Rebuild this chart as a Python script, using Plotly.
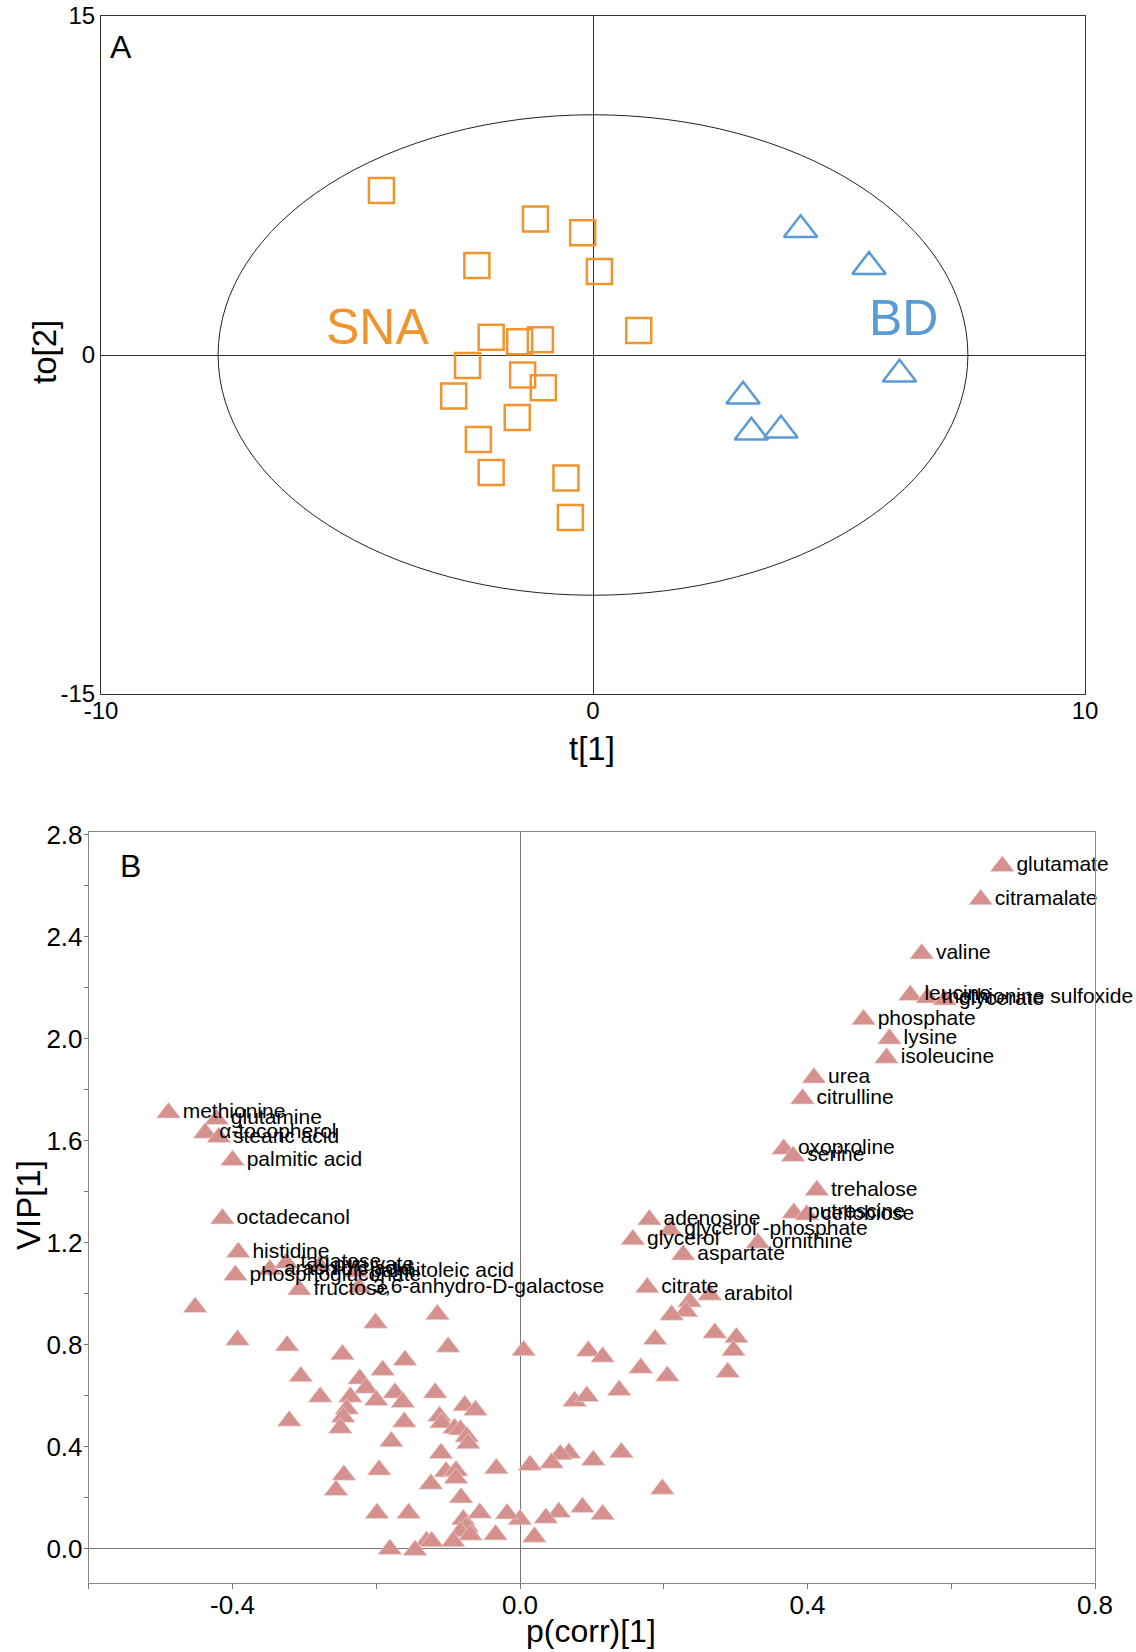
import plotly.graph_objects as go

W, H = 1136, 1652
FONT = "Liberation Sans, Arial, sans-serif"

# ---------------- Panel A data (scores) ----------------
sna_t1 = [-4.30, -1.17, -0.21, -2.36, 0.13, 0.93, -2.07, -1.49, -1.07, -2.55,
          -1.43, -1.01, -2.83, -1.54, -2.33, -2.07, -0.55, -0.46]
sna_to2 = [7.28, 6.02, 5.41, 3.96, 3.70, 1.08, 0.78, 0.59, 0.68, -0.46,
           -0.89, -1.45, -1.81, -2.76, -3.74, -5.20, -5.44, -7.19]
bd_t1 = [4.22, 5.61, 6.23, 3.05, 3.22, 3.82]
bd_to2 = [5.54, 3.91, -0.85, -1.83, -3.42, -3.33]
ellipse_a, ellipse_b = 7.62, 10.63
a_xticks = [-10, 0, 10]
a_xtext = ["-10", "0", "10"]
a_yticks = [-15, 0, 15]
a_ytext = ["-15", "0", "15"]

# ---------------- Panel B data (S-plot) ----------------
lab_names = ["glutamate", "citramalate", "valine", "leucine", "methionine sulfoxide",
             "glycerate", "phosphate", "lysine", "isoleucine", "urea", "citrulline",
             "oxoproline", "serine", "trehalose", "putrescine", "cellobiose",
             "adenosine", "glycerol -phosphate", "glycerol", "ornithine", "aspartate",
             "citrate", "arabitol",
             "methionine", "glutamine", "α-tocopherol", "stearic acid", "palmitic acid",
             "octadecanol", "histidine", "phosphogluconate", "arachidic acid",
             "tagatose", "pyruvate", "palmitoleic acid", "fructose",
             "3,6-anhydro-D-galactose"]
lab_pcorr = [0.671, 0.641, 0.559, 0.543, 0.567, 0.591, 0.478, 0.514, 0.510, 0.409, 0.393,
             0.367, 0.380, 0.413, 0.381, 0.399, 0.180, 0.209, 0.157, 0.331, 0.227,
             0.177, 0.264,
             -0.489, -0.422, -0.438, -0.419, -0.400, -0.414, -0.392, -0.396, -0.348,
             -0.325, -0.279, -0.228, -0.307, -0.224]
lab_vip = [2.676, 2.545, 2.333, 2.170, 2.160, 2.152, 2.075, 1.999, 1.924, 1.846, 1.764,
           1.567, 1.539, 1.405, 1.316, 1.309, 1.290, 1.250, 1.212, 1.199, 1.152,
           1.024, 0.995,
           1.709, 1.684, 1.630, 1.613, 1.523, 1.294, 1.162, 1.072, 1.094,
           1.120, 1.109, 1.086, 1.015, 1.024]

other_pcorr = [0.236, 0.231, 0.211, 0.271, 0.301, 0.297, 0.289, 0.188, 0.168, 0.205,
               0.138, 0.095, 0.115, 0.076, 0.093, 0.005, 0.198, 0.141, 0.102, 0.068,
               0.056, 0.044, 0.014, -0.033, 0.087, 0.115, 0.054, 0.036, 0.000, -0.018,
               0.020, -0.034,
               -0.452, -0.393, -0.324, -0.247, -0.201, -0.115, -0.100, -0.305, -0.160,
               -0.191, -0.223, -0.214, -0.278, -0.236, -0.200, -0.174, -0.163, -0.118,
               -0.077, -0.062, -0.241, -0.246, -0.321, -0.250, -0.161, -0.112, -0.109,
               -0.091, -0.083, -0.074, -0.072, -0.179, -0.110, -0.103, -0.089, -0.089,
               -0.124, -0.082, -0.196, -0.245, -0.256, -0.199, -0.155, -0.079, -0.074,
               -0.083, -0.069, -0.093, -0.056, -0.130, -0.123, -0.146, -0.181]
other_vip = [0.968, 0.930, 0.916, 0.846, 0.828, 0.777, 0.692, 0.821, 0.708, 0.677,
             0.621, 0.775, 0.752, 0.578, 0.598, 0.777, 0.234, 0.377, 0.347, 0.375,
             0.369, 0.336, 0.327, 0.314, 0.162, 0.134, 0.143, 0.120, 0.114, 0.137,
             0.046, 0.055,
             0.947, 0.818, 0.796, 0.761, 0.885, 0.918, 0.791, 0.675, 0.739,
             0.700, 0.666, 0.630, 0.595, 0.595, 0.582, 0.611, 0.574, 0.611,
             0.561, 0.543, 0.548, 0.516, 0.501, 0.473, 0.497, 0.519, 0.494,
             0.472, 0.466, 0.439, 0.412, 0.420, 0.374, 0.302, 0.306, 0.276,
             0.254, 0.200, 0.309, 0.289, 0.229, 0.139, 0.139, 0.114, 0.086,
             0.067, 0.054, 0.028, 0.140, 0.029, 0.028, -0.006, -0.002]
b_xticks = [-0.4, 0.0, 0.4, 0.8]
b_xtext = ["-0.4", "0.0", "0.4", "0.8"]
b_yticks = [0.0, 0.4, 0.8, 1.2, 1.6, 2.0, 2.4, 2.8]
b_ytext = ["0.0", "0.4", "0.8", "1.2", "1.6", "2.0", "2.4", "2.8"]

ORANGE = "#F0952E"
BLUE = "#5B9BD5"
PINK = "#D4918E"

fig = go.Figure()

# Panel A
fig.add_trace(go.Scatter(x=sna_t1, y=sna_to2, mode="markers", xaxis="x", yaxis="y",
                         marker=dict(symbol="square-open", size=25, color=ORANGE,
                                     line=dict(width=2.5, color=ORANGE)),
                         showlegend=False, hoverinfo="skip"))
fig.add_trace(go.Scatter(x=bd_t1, y=bd_to2, mode="markers", xaxis="x", yaxis="y",
                         marker=dict(symbol="triangle-up-open", size=29, color=BLUE,
                                     line=dict(width=2.5, color=BLUE)),
                         showlegend=False, hoverinfo="skip"))

# Panel B
MSIZE = 21
fig.add_trace(go.Scatter(x=other_pcorr, y=other_vip, mode="markers", xaxis="x2", yaxis="y2",
                         marker=dict(symbol="triangle-up", size=MSIZE, color=PINK,
                                     line=dict(width=0.6, color="#F3DCDB")),
                         showlegend=False, hoverinfo="skip"))
fig.add_trace(go.Scatter(x=lab_pcorr, y=lab_vip, mode="markers+text", xaxis="x2", yaxis="y2",
                         text=lab_names, textposition="middle right", cliponaxis=False,
                         textfont=dict(family=FONT, size=21, color="black"),
                         marker=dict(symbol="triangle-up", size=MSIZE, color=PINK,
                                     line=dict(width=0.6, color="#F3DCDB")),
                         showlegend=False, hoverinfo="skip"))

# pixel geometry -> domains
axA = dict(l=101, r=1085, t=16, b=694)
axB = dict(l=88.75, r=1095, t=831.5, b=1582.6)

def xd(a):
    return [a["l"] / W, a["r"] / W]

def yd(a):
    return [1 - a["b"] / H, 1 - a["t"] / H]

tickfont = dict(family=FONT, size=24, color="black")
tickfontB = dict(family=FONT, size=26, color="black")

fig.update_layout(
    width=W, height=H, margin=dict(l=0, r=0, t=0, b=0),
    paper_bgcolor="white", plot_bgcolor="white",
    font=dict(family=FONT, color="black"),
    xaxis=dict(domain=xd(axA), range=[-10, 10], tickvals=a_xticks, ticktext=a_xtext,
               ticks="", showgrid=False, zeroline=True, zerolinecolor="#333",
               zerolinewidth=1, showline=True, linecolor="#333", linewidth=1,
               mirror=True, tickfont=tickfont, automargin=False, anchor="y",
               ticklabelstandoff=-5),
    yaxis=dict(domain=yd(axA), range=[-15, 15], tickvals=a_yticks, ticktext=a_ytext,
               ticks="", showgrid=False, zeroline=True, zerolinecolor="#333",
               zerolinewidth=1, showline=True, linecolor="#333", linewidth=1,
               mirror=True, tickfont=tickfont, automargin=False, anchor="x"),
    xaxis2=dict(domain=xd(axB), range=[-0.6, 0.8], tickvals=b_xticks, ticktext=b_xtext,
                ticks="outside", ticklen=5, tickcolor="#777",
                minor=dict(dtick=0.2, tick0=0, ticks="outside", ticklen=5, tickcolor="#777"),
                showgrid=False, zeroline=True, zerolinecolor="#777", zerolinewidth=1,
                showline=True, linecolor="#888", linewidth=1, mirror=True,
                tickfont=tickfontB, automargin=False, anchor="y2",
                ticklabelstandoff=-6),
    yaxis2=dict(domain=yd(axB), range=[-0.133, 2.812], tickvals=b_yticks, ticktext=b_ytext,
                ticks="outside", ticklen=4, tickcolor="#777",
                minor=dict(dtick=0.2, tick0=0, ticks="outside", ticklen=4, tickcolor="#777"),
                showgrid=False, zeroline=True, zerolinecolor="#777", zerolinewidth=1,
                showline=True, linecolor="#888", linewidth=1, mirror=True,
                tickfont=tickfontB, automargin=False, anchor="x2",
                ticklabelstandoff=-4),
)

# Hotelling ellipse (drawn in data coordinates)
fig.add_shape(type="circle", xref="x", yref="y",
              x0=-ellipse_a, x1=ellipse_a, y0=-ellipse_b, y1=ellipse_b,
              line=dict(color="#222", width=1))

def ann(x, y, text, size, color="black", angle=0, xref="paper", yref="paper"):
    fig.add_annotation(x=x, y=y, xref=xref, yref=yref, text=text, showarrow=False,
                       textangle=angle, font=dict(family=FONT, size=size, color=color),
                       xanchor="center", yanchor="middle")

# group labels
ann(-4.38, 1.23, "SNA", 50, ORANGE, xref="x", yref="y")
ann(6.32, 1.62, "BD", 50, BLUE, xref="x", yref="y")

# panel letters
ann(121 / W, 1 - 47 / H, "A", 32)
ann(130 / W, 1 - 866 / H, "B", 32)

# axis titles
ann(592 / W, 1 - 748 / H, "t[1]", 33)
ann(44 / W, 1 - 352 / H, "to[2]", 33, angle=-90)
ann(591 / W, 1 - 1631 / H, "p(corr)[1]", 32)
ann(28 / W, 1 - 1205 / H, "VIP[1]", 33, angle=-90)

fig.write_html("out.html")
